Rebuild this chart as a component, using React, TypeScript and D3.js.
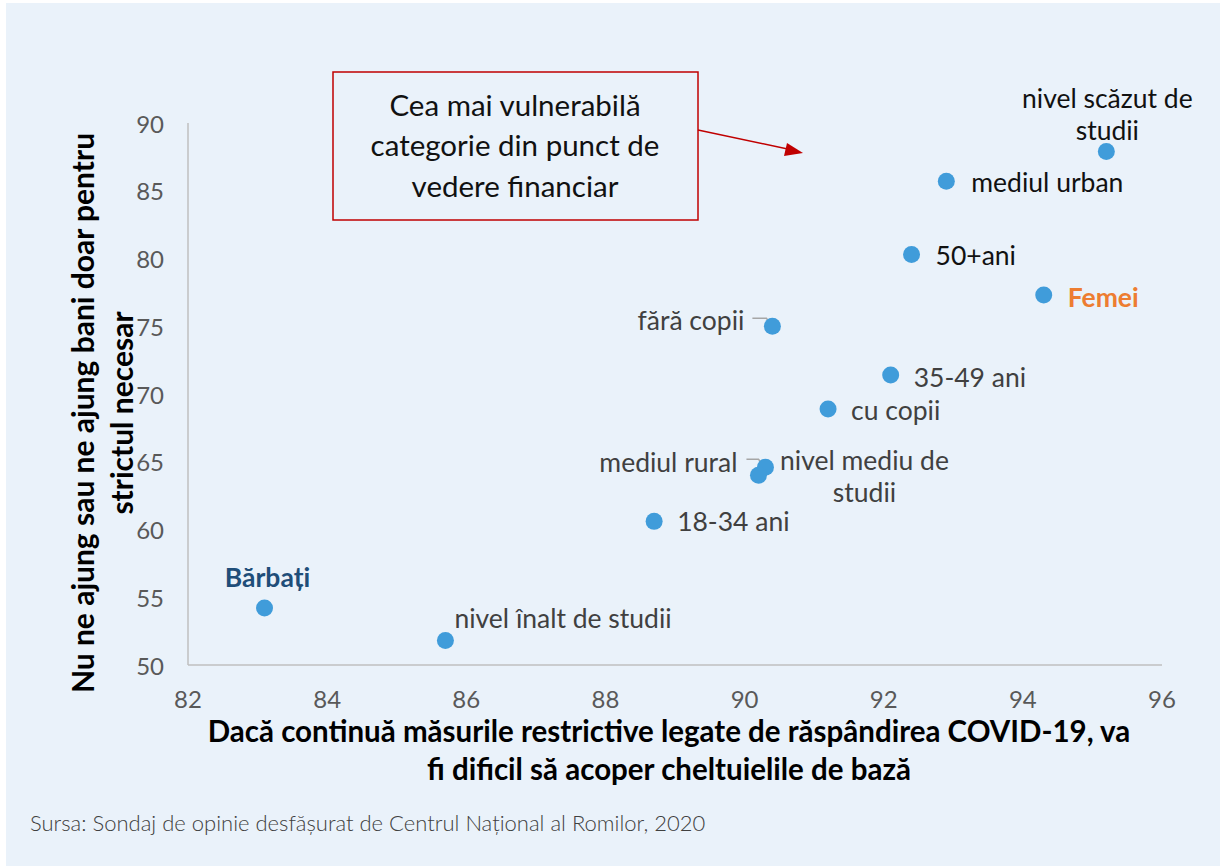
import React from "react";
import * as d3 from "d3";

const categories = [
  "Bărbați",
  "nivel înalt de studii",
  "18-34 ani",
  "mediul rural",
  "nivel mediu de studii",
  "cu copii",
  "35-49 ani",
  "fără copii",
  "50+ani",
  "mediul urban",
  "nivel scăzut de studii",
  "Femei",
];
const xValues = [83.1, 85.7, 88.7, 90.3, 90.2, 91.2, 92.1, 90.4, 92.4, 92.9, 95.2, 94.3];
const yValues = [54.2, 51.8, 60.6, 64.6, 64.0, 68.9, 71.4, 75.0, 80.3, 85.7, 87.9, 77.3];
const xTicks = [82, 84, 86, 88, 90, 92, 94, 96];
const yTicks = [50, 55, 60, 65, 70, 75, 80, 85, 90];

const xTitle = ["Dacă continuă măsurile restrictive legate de răspândirea COVID-19, va", "fi dificil să acoper cheltuielile de bază"];
const yTitle = ["Nu ne ajung sau ne ajung bani doar pentru", "strictul necesar"];
const noteLines = ["Cea mai vulnerabilă", "categorie din punct de", "vedere financiar"];
const source = "Sursa: Sondaj de opinie desfășurat de Centrul Național al Romilor, 2020";

// label layout (offsets in px relative to point)
type LabelLayout = {
  lines: string[];
  dx: number;
  dy: number;
  anchor: "start" | "middle" | "end";
  color: string;
  bold?: boolean;
  leader?: [number, number][];
};
const labelLayout: Record<string, LabelLayout> = {
  "Bărbați": { lines: ["Bărbați"], dx: 3, dy: -31, anchor: "middle", color: "#1F4E79", bold: true },
  "nivel înalt de studii": { lines: ["nivel înalt de studii"], dx: 9, dy: -23, anchor: "start", color: "#404040" },
  "18-34 ani": { lines: ["18-34 ani"], dx: 23, dy: 0, anchor: "start", color: "#404040" },
  "mediul rural": { lines: ["mediul rural"], dx: -28, dy: -5, anchor: "end", color: "#404040", leader: [[-19, -8], [-7, -8], [-1, -1]] },
  "nivel mediu de studii": { lines: ["nivel mediu de", "studii"], dx: 106, dy: 1, anchor: "middle", color: "#404040" },
  "cu copii": { lines: ["cu copii"], dx: 23, dy: 1, anchor: "start", color: "#404040" },
  "35-49 ani": { lines: ["35-49 ani"], dx: 23, dy: 2, anchor: "start", color: "#404040" },
  "fără copii": { lines: ["fără copii"], dx: -28, dy: -6, anchor: "end", color: "#404040", leader: [[-20, -8], [-6, -8], [0, 0]] },
  "50+ani": { lines: ["50+ani"], dx: 24, dy: 1, anchor: "start", color: "#111111" },
  "mediul urban": { lines: ["mediul urban"], dx: 25, dy: 1, anchor: "start", color: "#111111" },
  "nivel scăzut de studii": { lines: ["nivel scăzut de", "studii"], dx: 1, dy: -37, anchor: "middle", color: "#111111" },
  "Femei": { lines: ["Femei"], dx: 24, dy: 2, anchor: "start", color: "#ED7D31", bold: true },
};

const FONT = "Lato, 'Open Sans', sans-serif";

export default function App() {
  const W = 1220;
  const H = 866;
  const x = d3.scaleLinear().domain([82, 96]).range([188, 1162]);
  const y = d3.scaleLinear().domain([50, 90]).range([665, 123]);
  const lineH = 32;

  return (
    <div style={{ position: "absolute", left: 0, top: 0 }}>
      <svg width={W} height={H} style={{ display: "block", fontFamily: FONT }}>
        <rect x={0} y={0} width={W} height={H} fill="#ffffff" />
        <rect x={6} y={3} width={W - 6} height={H - 3} fill="#EAF2FA" />

        {/* axes */}
        <line x1={x(82)} x2={x(82)} y1={y(90)} y2={y(50)} stroke="#BFBFBF" strokeWidth={1.5} />
        <line x1={x(82)} x2={x(96)} y1={y(50)} y2={y(50)} stroke="#BFBFBF" strokeWidth={1.5} />

        {yTicks.map((t) => (
          <text key={"y" + t} x={164} y={y(t)} textAnchor="end" dominantBaseline="central" fontSize={24} fill="#595959">
            {t}
          </text>
        ))}
        {xTicks.map((t) => (
          <text key={"x" + t} x={x(t)} y={698} textAnchor="middle" dominantBaseline="central" fontSize={24} fill="#595959">
            {t}
          </text>
        ))}

        {/* axis titles */}
        {xTitle.map((l, i) => (
          <text key={"xt" + i} x={669} y={730 + i * 38} textAnchor="middle" dominantBaseline="central" fontSize={29.5} fontWeight="bold" fill="#000">
            {l}
          </text>
        ))}
        {yTitle.map((l, i) => (
          <text
            key={"yt" + i}
            transform={`translate(${82 + i * 39},413) rotate(-90)`}
            textAnchor="middle"
            dominantBaseline="central"
            fontSize={30}
            fontWeight="bold"
            fill="#000"
          >
            {l}
          </text>
        ))}

        {/* annotation box */}
        <rect x={333} y={72} width={365} height={148} fill="none" stroke="#C00000" strokeWidth={1.5} />
        {noteLines.map((l, i) => (
          <text key={"n" + i} x={515} y={104 + i * 40.5} textAnchor="middle" dominantBaseline="central" fontSize={29.5} fill="#111">
            {l}
          </text>
        ))}
        <line x1={698} y1={130} x2={790} y2={149.5} stroke="#C00000" strokeWidth={1.5} />
        <path d="M787,143 L803,153 L784,156 z" fill="#C00000" />

        {/* leader lines */}
        {categories.map((c, i) => {
          const L = labelLayout[c];
          if (!L.leader) return null;
          const px = x(xValues[i]);
          const py = y(yValues[i]);
          const pts = L.leader.map(([dx, dy]) => [px + dx, py + dy] as [number, number]);
          return <path key={"ld" + i} d={d3.line()(pts) || ""} fill="none" stroke="#A6A6A6" strokeWidth={1.5} />;
        })}

        {/* points */}
        {categories.map((c, i) => (
          <circle key={"p" + i} cx={x(xValues[i])} cy={y(yValues[i])} r={8.5} fill="#409CDA" />
        ))}

        {/* labels */}
        {categories.map((c, i) => {
          const L = labelLayout[c];
          const px = x(xValues[i]) + L.dx;
          const py = y(yValues[i]) + L.dy;
          const n = L.lines.length;
          return (
            <text
              key={"l" + i}
              x={px}
              textAnchor={L.anchor}
              dominantBaseline="central"
              fontSize={26.5}
              fontWeight={L.bold ? "bold" : "normal"}
              fill={L.color}
            >
              {L.lines.map((ln, j) => (
                <tspan key={j} x={px} y={py + (j - (n - 1) / 2) * lineH}>
                  {ln}
                </tspan>
              ))}
            </text>
          );
        })}

        <text x={30} y={822} dominantBaseline="central" fontSize={22} fill="#404040" fontWeight={300}>
          {source}
        </text>
      </svg>
    </div>
  );
}
